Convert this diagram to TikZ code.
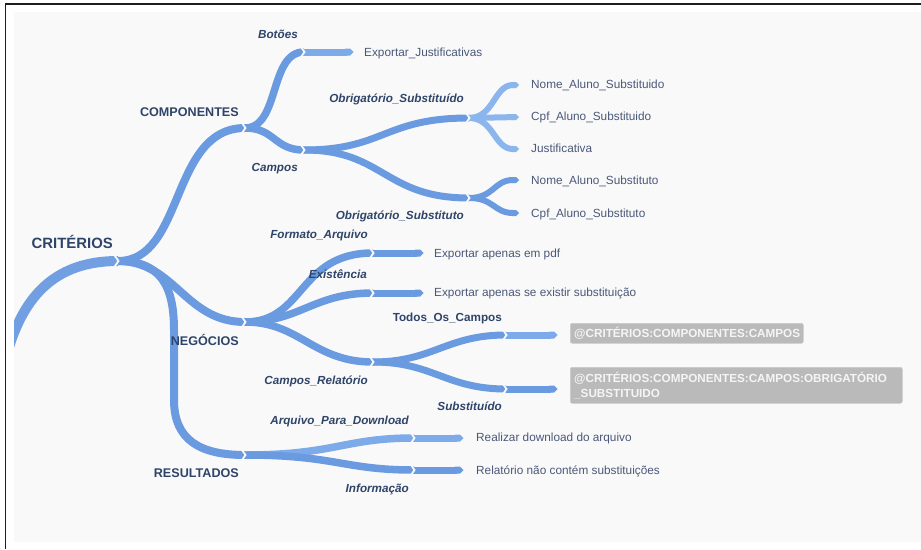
\documentclass[tikz,border=0pt]{standalone}
\usepackage{fontspec}
\setmainfont{Liberation Sans}
\usetikzlibrary{arrows.meta}

\definecolor{panel}{HTML}{F9F9F9}
\definecolor{frameline}{HTML}{1E1E1E}
\definecolor{brA}{HTML}{6A9AE0}
\definecolor{brB}{HTML}{7DAAE8}
\definecolor{brC}{HTML}{8AB5ED}
\definecolor{lblcol}{HTML}{2F4469}
\definecolor{leafcol}{HTML}{4A5878}
\definecolor{tagfill}{HTML}{BABABA}

\tikzset{
  stemline/.style={draw=brA!95!white, line width=10, line cap=butt},
  lvlone/.style={draw=brA, line width=8, line cap=butt},
  lvltwo/.style={draw=brA, line width=7.5, line cap=butt},
  lvlthree/.style={draw=brA, line width=7, line cap=butt},
  fanline/.style={draw=brA, line width=6, line cap=butt, -{Triangle Cap}},
  leafarrow/.style={draw=brA, line width=7, line cap=butt, -{Triangle Cap}},
  gapmark/.style={draw=panel, line width=1.8, line join=miter},
  rootlbl/.style={font=\fontsize{14.9}{17}\selectfont\bfseries, text=lblcol, inner sep=0, anchor=base east},
  mainlbl/.style={font=\fontsize{12.6}{15}\selectfont\bfseries, text=lblcol, inner sep=0, anchor=base east},
  sublbl/.style={font=\fontsize{11.7}{14}\selectfont\bfseries\itshape, text=lblcol, inner sep=0, anchor=base east},
  sublblup/.style={font=\fontsize{11.7}{14}\selectfont\bfseries, text=lblcol, inner sep=0, anchor=base east},
  leaf/.style={font=\fontsize{11.8}{14}\selectfont, text=leafcol, inner sep=0, anchor=base west},
  tagbox/.style={fill=tagfill, draw=tagfill!75!white, line width=0.6, rounded corners=2, inner sep=0, anchor=north west},
  tagtext/.style={font=\fontsize{11.7}{14}\selectfont\bfseries, text=white!96!black, inner sep=0, anchor=base west},
}

\begin{document}
\begin{tikzpicture}[x=1pt,y=-1pt]
\useasboundingbox (0,0) rectangle (921,549);
\fill[white] (0,0) rectangle (921,549);
\fill[panel] (14,12) rectangle (921,542);
\draw[frameline, line width=1.3] (5.5,549) -- (5.5,4) -- (921,4);

% branch joints
\coordinate (jR)   at (118,261);
\coordinate (jC)   at (245,128);
\coordinate (jN)   at (245,322);
\coordinate (jS)   at (245,455);
\coordinate (jB)   at (304,52);
\coordinate (jCa)  at (304,150);
\coordinate (jOSa) at (469,118);
\coordinate (jOSb) at (469,198);
\coordinate (jF)   at (373,253);
\coordinate (jE)   at (373,293);
\coordinate (jCR)  at (373,362);
\coordinate (jT)   at (506,335);
\coordinate (jSu)  at (506,389);
\coordinate (jA)   at (414,438);
\coordinate (jI)   at (414,470);
% bend points of the long branch
\coordinate (rA) at (174,330);
\coordinate (rB) at (174,400);
% free ends of the arrows
\coordinate (eB)  at (353.5,52);
\coordinate (eF)  at (423.5,253);
\coordinate (eE)  at (423.5,293);
\coordinate (eT)  at (557.5,335);
\coordinate (eSu) at (557.5,389);
\coordinate (eA)  at (463.5,438);
\coordinate (eI)  at (463.5,470);
\coordinate (eN1) at (519,85);
\coordinate (eC1) at (519,117);
\coordinate (eJ1) at (519,149);
\coordinate (eN2) at (519,180);
\coordinate (eC2) at (519,213);
\coordinate (stem) at (-5,420);

% root stem, cut at the panel edge
\begin{scope}
  \clip (14,12) rectangle (921,542);
  \draw[stemline] (stem) .. controls +(10,-90) and +(-88,0) .. (jR);
\end{scope}

% first level
\draw[lvlone] (jR) .. controls +(67,0) and +(-75,0) .. (jC);
\draw[lvlone] (jR) .. controls +(57,0) and +(-60,0) .. (jN);
\draw[lvlone] (jR) .. controls +(42,0) and +(0,-45) .. (rA) -- (rB)
                   .. controls +(0,40) and +(-45,0) .. (jS);

% COMPONENTES
\draw[lvltwo] (jC) .. controls +(35,0) and +(-35,0) .. (jB);
\draw[lvltwo] (jC) .. controls +(30,0) and +(-30,0) .. (jCa);
\draw[leafarrow, draw=brB] (jB) -- (eB);
\draw[lvlthree] (jCa) .. controls +(80,0) and +(-85,0) .. (jOSa);
\draw[lvlthree] (jCa) .. controls +(80,0) and +(-85,0) .. (jOSb);
\draw[fanline, draw=brC] (jOSa) .. controls +(25,0) and +(-25,0) .. (eN1);
\draw[fanline, draw=brC] (jOSa) -- (eC1);
\draw[fanline, draw=brC] (jOSa) .. controls +(25,0) and +(-25,0) .. (eJ1);
\draw[fanline] (jOSb) .. controls +(25,0) and +(-25,0) .. (eN2);
\draw[fanline] (jOSb) .. controls +(25,0) and +(-25,0) .. (eC2);

% NEGÓCIOS
\draw[lvltwo] (jN) .. controls +(60,0) and +(-75,0) .. (jF);
\draw[lvltwo] (jN) .. controls +(55,0) and +(-60,0) .. (jE);
\draw[lvltwo] (jN) .. controls +(55,0) and +(-60,0) .. (jCR);
\draw[leafarrow] (jF) -- (eF);
\draw[leafarrow] (jE) -- (eE);
\draw[lvlthree] (jCR) .. controls +(60,0) and +(-60,0) .. (jT);
\draw[lvlthree] (jCR) .. controls +(60,0) and +(-60,0) .. (jSu);
\draw[leafarrow, draw=brB] (jT) -- (eT);
\draw[leafarrow] (jSu) -- (eSu);

% RESULTADOS
\draw[lvltwo, draw=brB] (jS) .. controls +(90,0) and +(-70,0) .. (jA);
\draw[lvltwo] (jS) .. controls +(90,0) and +(-70,0) .. (jI);
\draw[leafarrow, draw=brB] (jA) -- (eA);
\draw[leafarrow] (jI) -- (eI);

% chevron cuts at every joint
\foreach \j in {jR,jC,jN,jS,jB,jCa,jOSa,jOSb,jF,jE,jCR,jT,jSu,jA,jI}
  \draw[gapmark] ([shift={(-4,-6.5)}]\j) -- ([shift={(0.5,0)}]\j) -- ([shift={(-4,6.5)}]\j);

% branch labels
\node[rootlbl] (lRoot) at (113,248.3) {CRITÉRIOS};
\node[mainlbl] (lComp) at (239,116.5) {COMPONENTES};
\node[mainlbl] (lNeg)  at (239,345.5) {NEGÓCIOS};
\node[mainlbl] (lRes)  at (239,477.8) {RESULTADOS};
\node[sublbl] (lBot)  at (298,38.3)  {Botões};
\node[sublbl] (lCam)  at (298,171.3) {Campos};
\node[sublbl] (lOSa)  at (464,102.5) {Obrigatório\_Substituído};
\node[sublbl] (lOSb)  at (464,219.3) {Obrigatório\_Substituto};
\node[sublbl] (lFor)  at (368,238.8) {Formato\_Arquivo};
\node[sublbl] (lExi)  at (367,278.3) {Existência};
\node[sublbl] (lCR)   at (368,384.3) {Campos\_Relatório};
\node[sublblup] (lTod) at (502,321.3) {Todos\_Os\_Campos};
\node[sublbl] (lSub)  at (502,410.3) {Substituído};
\node[sublbl] (lArq)  at (409,424.3) {Arquivo\_Para\_Download};
\node[sublbl] (lInf)  at (409,492.6) {Informação};

% leaf texts
\node[leaf] (tB)  at (364,56.3)  {Exportar\_Justificativas};
\node[leaf] (tN1) at (531,88.3)  {Nome\_Aluno\_Substituido};
\node[leaf] (tC1) at (531,120.1) {Cpf\_Aluno\_Substituido};
\node[leaf] (tJ1) at (531,152.6) {Justificativa};
\node[leaf] (tN2) at (531,184.3) {Nome\_Aluno\_Substituto};
\node[leaf] (tC2) at (531,217)   {Cpf\_Aluno\_Substituto};
\node[leaf] (tF)  at (434,257.3) {Exportar apenas em pdf};
\node[leaf] (tE)  at (434,296.6) {Exportar apenas se existir substituição};
\node[leaf] (tA)  at (476,441.6) {Realizar download do arquivo};
\node[leaf] (tI)  at (476,474.3) {Relatório não contém substituições};

% reference tags
\node[tagbox, minimum width=233, minimum height=20] (gT) at (570,323) {};
\node[tagtext] (gTt) at (574,337.3) {@CRITÉRIOS:COMPONENTES:CAMPOS};
\node[tagbox, minimum width=332, minimum height=36] (gS) at (570,367) {};
\node[tagtext] (gSt1) at (574,382.3) {@CRITÉRIOS:COMPONENTES:CAMPOS:OBRIGATÓRIO};
\node[tagtext] (gSt2) at (574,397.3) {\_SUBSTITUIDO};
\end{tikzpicture}
\end{document}
